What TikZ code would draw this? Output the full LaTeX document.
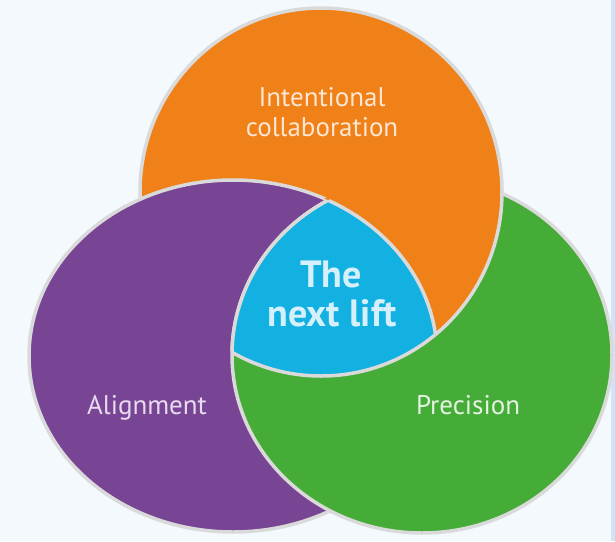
\documentclass[tikz,border=0pt]{standalone}
\usepackage{fontspec}
\setmainfont{PT Sans}
\definecolor{bgc}{HTML}{F3F9FD}
\definecolor{stripc}{HTML}{CCE6F8}
\definecolor{orangec}{HTML}{F08018}
\definecolor{purplec}{HTML}{784594}
\definecolor{greenc}{HTML}{45AC37}
\definecolor{bluec}{HTML}{12B1E1}
\definecolor{rimc}{HTML}{DADADA}
\definecolor{otext}{HTML}{FDE6D2}
\definecolor{ptext}{HTML}{E8DAF0}
\definecolor{gtext}{HTML}{E4F3E0}
\definecolor{btext}{HTML}{D5F0FA}
\def\orangepath{(321,192) ellipse [x radius=181pt, y radius=184pt]}
\def\purplepath{(233,356) ellipse [x radius=204pt, y radius=176pt]}
\def\greenpath{(422,355) ellipse [x radius=190pt, y radius=178pt]}
\def\greenbig{(422,355) ellipse [x radius=193pt, y radius=181pt]}
\tikzset{
  rim/.style={draw=rimc, line width=3.5pt},
  lbl/.style={anchor=base, inner sep=0pt, font=\fontsize{27}{30}\selectfont},
  hub/.style={anchor=base, inner sep=0pt, font=\fontsize{38}{40}\bfseries\selectfont, text=btext}
}
\begin{document}
\begin{tikzpicture}[x=1pt,y=-1pt]
\useasboundingbox (0,0) rectangle (615,541);
\fill[bgc] (0,0) rectangle (615,541);
\fill[stripc] (611,0) rectangle (615,541);
% base layers
\path[fill=orangec, rim] \orangepath;
\path[fill=purplec, rim] \purplepath;
\path[fill=greenc, rim] \greenpath;
% orange lies over green (outside purple)
\begin{scope}
  \clip \greenbig;
  \begin{scope}[even odd rule]
    \clip (-10,-10) rectangle (625,551) \purplepath;
    \path[fill=orangec] \orangepath;
    \path[rim] \orangepath;
  \end{scope}
\end{scope}
% centre region
\begin{scope}
  \clip \orangepath;
  \clip \purplepath;
  \fill[bluec] \greenpath;
\end{scope}
\begin{scope}
  \clip \purplepath; \clip \greenpath;
  \path[rim] \orangepath;
\end{scope}
\begin{scope}
  \clip \orangepath; \clip \greenpath;
  \path[rim] \purplepath;
\end{scope}
\begin{scope}
  \clip \orangepath; \clip \purplepath;
  \path[rim] \greenpath;
\end{scope}
% labels
\node[lbl, text=otext] (collab1) at (322,106) {Intentional};
\node[lbl, text=otext] (collab2) at (322,136) {collaboration};
\node[lbl, text=ptext] (align) at (147,414) {Alignment};
\node[lbl, text=gtext] (prec) at (468,414) {Precision};
\node[hub] (the) at (331,287) {The};
\node[hub] (lift) at (332,326) {next lift};
\end{tikzpicture}
\end{document}
